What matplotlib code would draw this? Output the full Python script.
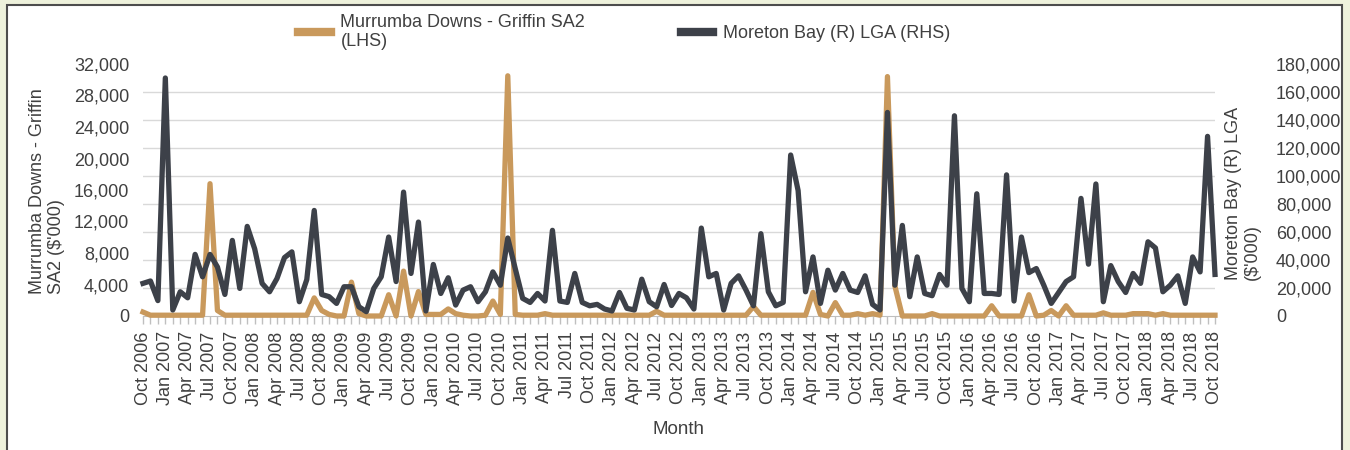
import numpy as np
import pandas as pd
import matplotlib
matplotlib.use('Agg')
import matplotlib.pyplot as plt
from matplotlib.lines import Line2D
from matplotlib.patches import Rectangle
from matplotlib.ticker import FixedLocator, FuncFormatter

plt.rcParams['font.family'] = ['Liberation Sans', 'DejaVu Sans']

# Monthly series, Oct 2006 - Oct 2018 ($'000)
months = pd.date_range('2006-10-01', '2018-10-01', freq='MS')

murrumba = [
    500, 100, 100, 100, 100, 100, 100, 100, 100, 16800, 700, 100,
    100, 100, 100, 100, 100, 100, 100, 100, 100, 100, 100, 2300,
    700, 200, 0, 0, 4300, 300, 0, 0, 0, 2700, 0, 5700,
    0, 3100, 200, 200, 200, 900, 300, 100, 0, 0, 100, 1900,
    200, 30500, 200, 100, 100, 100, 300, 100, 100, 100, 100, 100,
    100, 100, 100, 100, 100, 100, 100, 100, 100, 600, 100, 100,
    100, 100, 100, 100, 100, 100, 100, 100, 100, 100, 1200, 100,
    100, 100, 100, 100, 100, 100, 3000, 200, 0, 1700, 100, 100,
    300, 100, 300, 100, 30400, 3800, 0, 0, 0, 0, 300, 0,
    0, 0, 0, 0, 0, 0, 1300, 0, 0, 0, 0, 2700,
    0, 100, 700, 0, 1300, 100, 100, 100, 100, 400, 100, 100,
    100, 300, 300, 300, 100, 300, 100, 100, 100, 100, 100, 100,
    100,
]

moreton = [
    23300, 25000, 11000, 170000, 4300, 17300, 13000, 44000, 28000, 44000, 35000, 15400,
    54000, 19700, 64000, 48000, 23300, 17300, 26800, 41700, 45800, 10200, 26000, 75400,
    15400, 13800, 9000, 20900, 20900, 6600, 3100, 19700, 28000, 56400, 24600, 88500,
    30400, 67100, 3600, 36800, 16100, 27300, 7800, 18500, 20900, 10200, 17300, 31500,
    22000, 55700, 33900, 12600, 9700, 16100, 10700, 61200, 10700, 9700, 30400, 9700,
    7300, 8300, 5000, 3600, 16800, 5500, 4300, 26300, 10200, 6600, 22500, 7500,
    16100, 13000, 5000, 62800, 28000, 30400, 4300, 23300, 28700, 18500, 7300, 58800,
    17300, 7300, 9700, 115000, 89600, 17300, 42200, 9000, 32700, 18500, 30400, 18500,
    16800, 28700, 8300, 4300, 145400, 22000, 64700, 13800, 42200, 16100, 14500, 29700,
    22000, 143000, 19700, 10200, 87300, 16100, 16100, 15400, 100800, 10700, 56400, 31000,
    33900, 22000, 9000, 16800, 24600, 28000, 84000, 37000, 94300, 10200, 36000, 24600,
    16800, 30400, 23300, 53000, 48600, 17300, 22000, 28700, 9000, 42200, 31500, 128300,
    29700,
]

gold = '#C9995C'
dark = '#3D4149'
text_col = '#404040'

fig = plt.figure(figsize=(13.5, 4.5), dpi=100, facecolor='#eef2dc')
fig.patches.append(Rectangle((7 / 1350, -0.02), 1335 / 1350, 1 - 5 / 450 + 0.02,
                             transform=fig.transFigure, facecolor='white',
                             edgecolor='#4d4d4d', lw=1.5, zorder=-1))

ax = fig.add_axes([143 / 1350, 1 - 316 / 450, 1072 / 1350, 252 / 450])
ax.set_facecolor('none')
x = np.arange(len(months))
ax.plot(x, murrumba, color=gold, lw=3.8, clip_on=False, zorder=3)
ax.set_xlim(0, len(months) - 1)
ax.set_ylim(0, 32000)

ax2 = ax.twinx()
ax2.plot(x, moreton, color=dark, lw=3.8, clip_on=False)
ax2.set_ylim(0, 180000)

fmt = FuncFormatter(lambda v, p: f'{v:,.0f}')
ax.set_yticks(np.arange(0, 32001, 4000))
ax.yaxis.set_major_formatter(fmt)
ax2.set_yticks(np.arange(0, 180001, 20000))
ax2.yaxis.set_major_formatter(fmt)

# gridlines follow the right-hand axis
ax.yaxis.set_minor_locator(FixedLocator(np.linspace(0, 32000, 10)))
ax.grid(which='minor', axis='y', color='#d9d9d9', lw=1)
ax.set_axisbelow(True)

ax.set_xticks(x[::3])
ax.set_xticklabels(months[::3].strftime('%b %Y'), rotation=90)
ax.set_xticks(x, minor=True)
ax.tick_params(axis='x', which='both', length=6, color='#bfbfbf', width=1,
               labelsize=13, labelcolor=text_col, pad=5)
ax.tick_params(axis='y', which='both', length=0, labelsize=13, labelcolor=text_col, pad=10)
ax2.tick_params(axis='y', length=0, labelsize=13, labelcolor=text_col, pad=44)

for s in ['top', 'left', 'right']:
    ax.spines[s].set_visible(False)
ax.spines['bottom'].set_color('#bfbfbf')
for s in ax2.spines.values():
    s.set_visible(False)

fig.text(679 / 1350, 1 - 430 / 450, 'Month', ha='center', va='center',
         fontsize=13.5, color=text_col)
fig.text(47 / 1350, 1 - 191 / 450, "Murrumba Downs - Griffin\nSA2 ($'000)", rotation=90,
         ha='center', va='center', multialignment='left', fontsize=13, color=text_col)
fig.text(1243 / 1350, 1 - 193 / 450, "Moreton Bay (R) LGA\n($'000)", rotation=90,
         ha='center', va='center', multialignment='left', fontsize=13, color=text_col)

handles = [Line2D([], [], color=gold, lw=6), Line2D([], [], color=dark, lw=6)]
fig.legend(handles, ['Murrumba Downs - Griffin SA2\n(LHS)', 'Moreton Bay (R) LGA (RHS)'],
           ncol=2, loc='center left', bbox_to_anchor=(298 / 1350, 1 - 32 / 450),
           frameon=False, fontsize=13, handlelength=1.8, handletextpad=0.55,
           columnspacing=5.3, borderpad=0, borderaxespad=0, labelcolor=text_col)

fig.savefig('out.png', dpi=100, facecolor=fig.get_facecolor())
